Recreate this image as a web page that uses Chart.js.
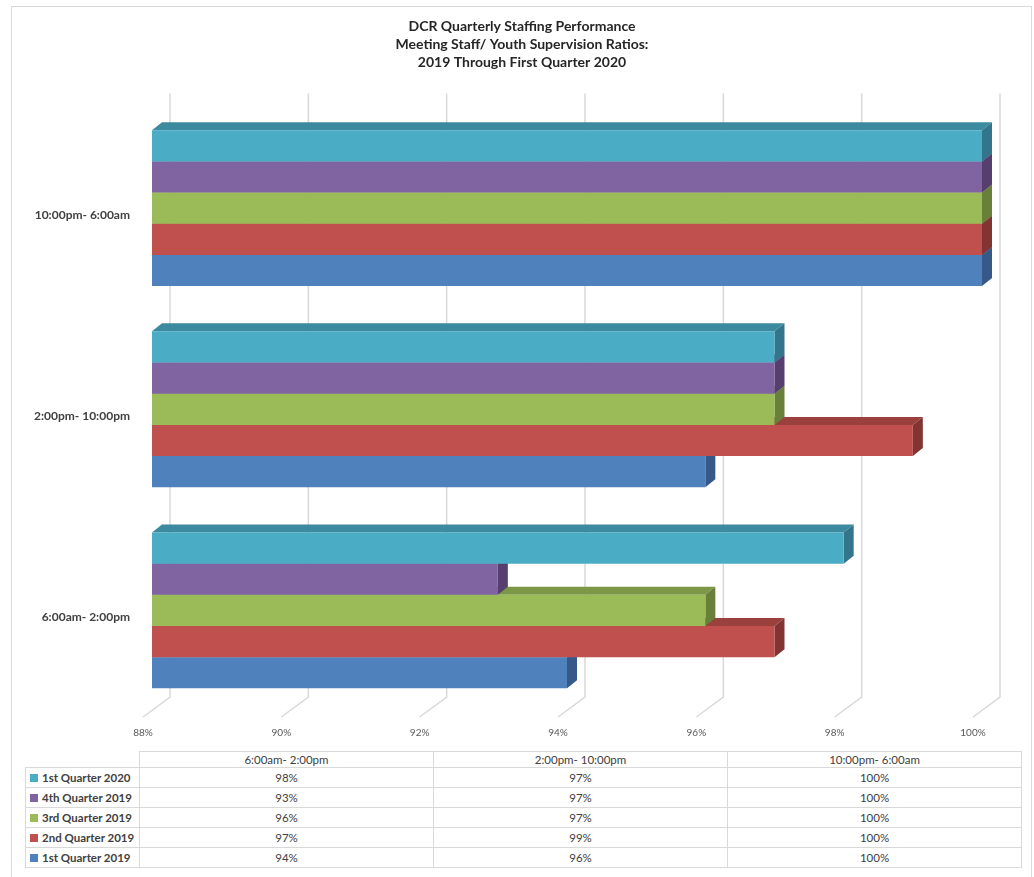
<!DOCTYPE html>
<html>
<head>
<meta charset="utf-8">
<script src="https://cdn.jsdelivr.net/npm/chart.js@4.4.0/dist/chart.umd.min.js"></script>
<style>
  body { margin: 0; background: #fff; }
  #marco { position: absolute; left: 11px; top: 6px; width: 1021px; height: 872px; border: 1px solid #d9d9d9; box-sizing: border-box; }
  #grafico { position: absolute; left: 0; top: 0; }
  #tabla { position: absolute; left: 25px; top: 751px; border-collapse: collapse; font-family: Lato, sans-serif; font-size: 11.5px; color: #404040; }
  #tabla tr { height: 20px; }
  #tabla tr.cabeza { height: 16px; }
  #tabla td { border: 1px solid #d9d9d9; padding: 0; text-align: center; line-height: 14px; }
  #tabla td.nombre { text-align: left; font-weight: bold; padding-left: 4px; width: 109px; }
  #tabla td.vacio { border: none; }
  #tabla td.col { width: 293px; }
  .cuadro { display: inline-block; width: 8px; height: 8px; margin-right: 4px; }
</style>
</head>
<body>
<div id="marco"></div>
<canvas id="grafico" width="1034" height="745"></canvas>
<table id="tabla"></table>
<script>
const categorias = ['6:00am- 2:00pm', '2:00pm- 10:00pm', '10:00pm- 6:00am'];
const series = ['1st Quarter 2020', '4th Quarter 2019', '3rd Quarter 2019', '2nd Quarter 2019', '1st Quarter 2019'];
const q1_2020 = [98, 97, 100];
const q4_2019 = [93, 97, 100];
const q3_2019 = [96, 97, 100];
const q2_2019 = [97, 99, 100];
const q1_2019 = [94, 96, 100];
const valores = [q1_2020, q4_2019, q3_2019, q2_2019, q1_2019];
const ejeMin = 88;
const ejeMax = 100;
const ejePaso = 2;

const colores = ['#4BACC6', '#8064A2', '#9BBB59', '#C0504D', '#4F81BD'];
const coloresArriba = ['#3B8A9F', '#664F82', '#7C9747', '#9A403D', '#3F6798'];
const coloresLado = ['#33758A', '#563F6E', '#69803A', '#833432', '#36598A'];

// profundidad del efecto 3d
const fondoX = 10;
const fondoY = 8;

// lineas de la pared del fondo y el piso
const paredes = {
  id: 'paredes',
  beforeDatasetsDraw(chart) {
    const ctx = chart.ctx;
    const x = chart.scales.x;
    const area = chart.chartArea;
    ctx.save();
    ctx.strokeStyle = '#d9d9d9';
    ctx.lineWidth = 1.5;
    for (let v = ejeMin; v <= ejeMax; v += ejePaso) {
      const px = x.getPixelForValue(v);
      ctx.beginPath();
      ctx.moveTo(px + 18, area.top - 14);
      ctx.lineTo(px + 18, area.bottom - 14);
      ctx.lineTo(px - 9, area.bottom + 6);
      ctx.stroke();
    }
    ctx.restore();
  }
};

// caras de arriba y del lado de cada barra
const barras3d = {
  id: 'barras3d',
  beforeDatasetsDraw(chart) {
    const ctx = chart.ctx;
    ctx.save();
    for (let d = chart.data.datasets.length - 1; d >= 0; d--) {
      const meta = chart.getDatasetMeta(d);
      meta.data.forEach(function(bar) {
        const izq = bar.base;
        const der = bar.x;
        const arriba = bar.y - bar.height / 2;
        const abajo = bar.y + bar.height / 2;
        ctx.fillStyle = coloresArriba[d];
        ctx.beginPath();
        ctx.moveTo(izq, arriba);
        ctx.lineTo(izq + fondoX, arriba - fondoY);
        ctx.lineTo(der + fondoX, arriba - fondoY);
        ctx.lineTo(der, arriba);
        ctx.closePath();
        ctx.fill();
        ctx.fillStyle = coloresLado[d];
        ctx.beginPath();
        ctx.moveTo(der, arriba);
        ctx.lineTo(der + fondoX, arriba - fondoY);
        ctx.lineTo(der + fondoX, abajo - fondoY);
        ctx.lineTo(der, abajo);
        ctx.closePath();
        ctx.fill();
      });
    }
    ctx.restore();
  }
};

const ctx = document.getElementById('grafico').getContext('2d');
const miGrafico = new Chart(ctx, {
  type: 'bar',
  data: {
    labels: categorias,
    datasets: series.map(function(nombre, i) {
      return {
        label: nombre,
        data: valores[i],
        base: ejeMin,
        backgroundColor: colores[i],
        borderWidth: 0,
        barPercentage: 1,
        categoryPercentage: 0.775
      };
    })
  },
  options: {
    indexAxis: 'y',
    responsive: false,
    animation: false,
    layout: { padding: { left: 10, right: 0, top: 0, bottom: 0 } },
    plugins: {
      legend: { display: false },
      tooltip: { enabled: false },
      title: {
        display: true,
        text: ['DCR Quarterly Staffing Performance', 'Meeting Staff/ Youth Supervision Ratios:', '2019 Through First Quarter 2020'],
        color: '#262626',
        font: { family: 'Lato', size: 14, weight: 'bold', lineHeight: 1.3 },
        padding: { top: 17, bottom: 36 }
      }
    },
    scales: {
      x: {
        min: ejeMin,
        max: ejeMax,
        grid: { display: false, drawTicks: false },
        border: { display: false },
        ticks: {
          stepSize: ejePaso,
          padding: 16,
          labelOffset: -9,
          color: '#595959',
          font: { family: 'Lato', size: 10 },
          callback: function(v) { return v + '%'; }
        },
        afterFit: function(scale) { scale.height = 34; }
      },
      y: {
        reverse: true,
        grid: { display: false, drawTicks: false },
        border: { display: false },
        ticks: {
          padding: 22,
          labelOffset: 7,
          color: '#404040',
          font: { family: 'Lato', size: 12, weight: 'bold' }
        },
        afterFit: function(scale) { scale.width = 142; }
      },
      // espacio vacio a la derecha
      derecha: {
        type: 'linear',
        position: 'right',
        grid: { display: false, drawTicks: false },
        border: { display: false },
        ticks: { display: false },
        afterFit: function(scale) { scale.width = 52; }
      }
    }
  },
  plugins: [paredes, barras3d]
});

// tabla de datos debajo del grafico
function armarTabla() {
  const tabla = document.getElementById('tabla');
  let html = '<tr class="cabeza"><td class="vacio"></td>';
  categorias.forEach(function(c) { html += '<td class="col">' + c + '</td>'; });
  html += '</tr>';
  series.forEach(function(nombre, i) {
    html += '<tr><td class="nombre"><span class="cuadro" style="background:' + colores[i] + '"></span>' + nombre + '</td>';
    valores[i].forEach(function(v) { html += '<td>' + v + '%</td>'; });
    html += '</tr>';
  });
  tabla.innerHTML = html;
}
armarTabla();
</script>
</body>
</html>
